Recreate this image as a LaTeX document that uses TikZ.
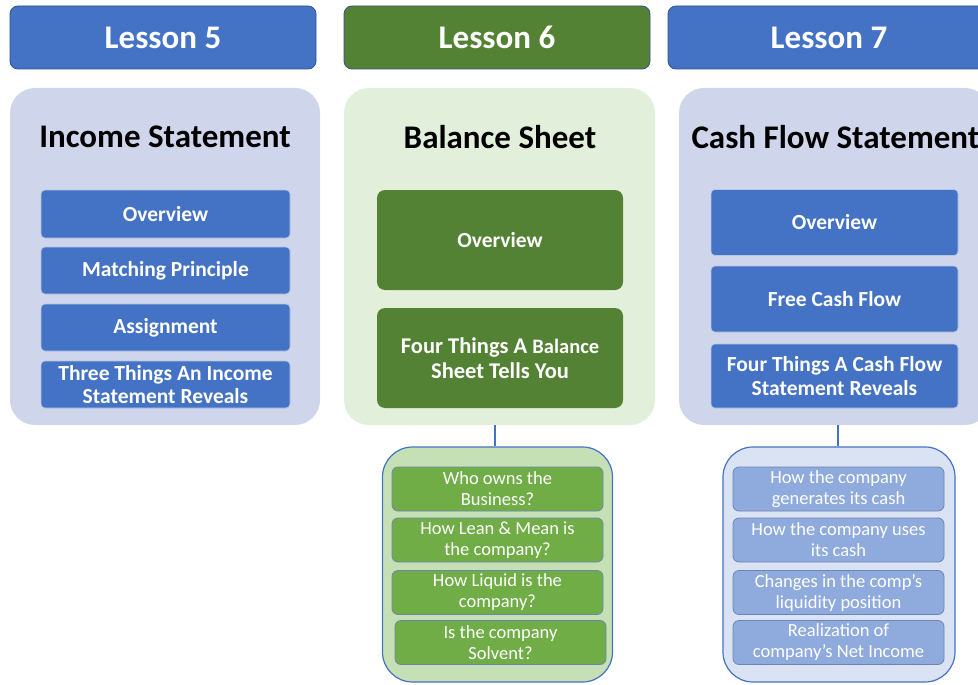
\documentclass[tikz,border=0pt]{standalone}
\usepackage{fontspec}
\setmainfont{Carlito}
\definecolor{blueA}{HTML}{4472C4}
\definecolor{blueEdge}{HTML}{2F528F}
\definecolor{lavender}{HTML}{CFD5EA}
\definecolor{greenA}{HTML}{548235}
\definecolor{greenLight}{HTML}{E2EFDA}
\definecolor{greenMid}{HTML}{70AD47}
\definecolor{greenPale}{HTML}{C5E0B4}
\definecolor{bluePale}{HTML}{DAE3F3}
\definecolor{blueMid}{HTML}{8FAADC}

\begin{document}
\begin{tikzpicture}
        [%%%%%%%%%%%%%%%%%%%%%%%%%%%%%%
            x=1pt,y=-1pt,
            lesson/.style={draw=blueEdge,line width=0.8pt,rounded corners=8pt,minimum height=63pt,text=white,font=\fontsize{33}{36}\selectfont\bfseries},
            panel/.style={rounded corners=25pt,minimum height=337pt,minimum width=311pt},
            title/.style={font=\fontsize{33}{36}\selectfont\bfseries},
            topic/.style={draw=white!60!blueA,fill=blueA,line width=0.6pt,rounded corners=4pt,text=white,align=center,inner sep=1pt,font=\fontsize{21.5}{23.5}\selectfont\bfseries},
            group/.style={draw=blueA,line width=1.2pt,rounded corners=30pt,minimum width=230pt,minimum height=235pt},
            question/.style={draw=blueEdge!70,line width=0.8pt,rounded corners=6pt,minimum width=211pt,minimum height=44pt,text=white,align=center,inner sep=1pt,font=\fontsize{18.5}{21}\selectfont},
        ]%%%%%%%%%%%%%%%%%%%%%%%%%%%%%%

        \useasboundingbox (0,0) rectangle (978,685);
        \clip (0,0) rectangle (978,685);

        % lesson headers
        \node[lesson,fill=blueA,minimum width=306pt] (l5) at (163,37.5) {Lesson 5};
        \node[lesson,fill=greenA,minimum width=306pt] (l6) at (497,37.5) {Lesson 6};
        \node[lesson,fill=blueA,minimum width=322pt] (l7) at (829,37.5) {Lesson 7};

        % panels
        \node[panel,fill=lavender,minimum width=310pt] (p5) at (165,256.5) {};
        \node[panel,fill=greenLight] (p6) at (499.5,256.5) {};
        \node[panel,fill=lavender] (p7) at (834.5,256.5) {};

        \node[title] (t5) at (165,137) {Income Statement};
        \node[title] (t6) at (500,137) {Balance Sheet};
        \node[title,anchor=west] (t7) at (688,137) {Cash Flow Statement};

        % income statement topics
        \foreach \y/\h/\txt [count=\i] in {214/48/Overview, 270.5/47/Matching Principle, 327.5/47/Assignment, 384.5/47/{Three Things An Income\\Statement Reveals}}{
            \node[topic,minimum width=249pt,minimum height=\h pt] (is\i) at (165.5,\y) {\txt};
        }

        % balance sheet topics
        \node[topic,draw=none,fill=greenA,rounded corners=8pt,minimum width=246pt,minimum height=100pt] (bs1) at (500,240) {Overview};
        \node[topic,draw=none,fill=greenA,rounded corners=8pt,minimum width=246pt,minimum height=100pt,font=\fontsize{22.5}{25}\selectfont\bfseries] (bs2) at (500,358)
            {Four Things A {\fontsize{20.5}{25}\selectfont Balance}\\Sheet Tells You};

        % cash flow topics
        \foreach \y/\h/\txt [count=\i] in {222.5/66/Overview, 299/66/Free Cash Flow, 376/64/{Four Things A Cash Flow\\Statement Reveals}}{
            \node[topic,minimum width=247pt,minimum height=\h pt] (cf\i) at (834.5,\y) {\txt};
        }

        % question groups
        \node[group,fill=greenPale] (g6) at (497.5,564.5) {};
        \node[group,fill=bluePale,minimum width=232pt] (g7) at (839,564.5) {};

        \draw[blueA,line width=2.5pt] (g6.north -| 495,0) -- (p6.south -| 495,0);
        \draw[blueA,line width=2.5pt] (g7.north -| 838,0) -- (p7.south -| 838,0);

        \foreach \x/\y/\txt [count=\i] in {497.5/489/{Who owns the\\Business?}, 497.5/540/{How Lean \& Mean is\\the company?}, 497.5/592.5/{How Liquid is the\\company?}, 500.5/642.5/{Is the company\\Solvent?}}{
            \node[question,fill=greenMid] (q6\i) at (\x,\y) {\txt};
        }
        \foreach \y/\txt [count=\i] in {489/{How the company\\generates its cash}, 540/{How the company uses\\its cash}, 592.5/{Changes in the comp’s\\liquidity position}, 642.5/{Realization of\\company’s Net Income}}{
            \node[question,fill=blueMid] (q7\i) at (838.5,\y) {\txt};
        }
    \end{tikzpicture}
\end{document}
